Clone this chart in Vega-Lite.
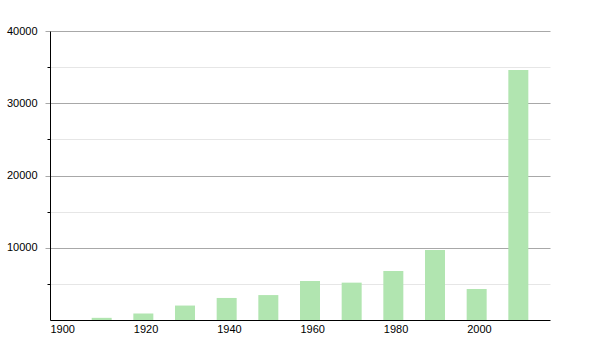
{
  "$schema": "https://vega.github.io/schema/vega-lite/v6.json",
  "width": 500,
  "height": 289,
  "autosize": {"type": "none"},
  "padding": {"left": 50, "top": 31, "right": 50, "bottom": 30},
  "background": "white",
  "config": {
    "view": {"stroke": null},
    "axis": {"labelFont": "Liberation Sans", "labelFontSize": 11, "labelColor": "#000"}
  },
  "data": {
    "values": [
      {"year": 1910, "population": 300},
      {"year": 1920, "population": 900},
      {"year": 1930, "population": 2000},
      {"year": 1940, "population": 3050},
      {"year": 1950, "population": 3450},
      {"year": 1960, "population": 5400},
      {"year": 1970, "population": 5170},
      {"year": 1980, "population": 6780},
      {"year": 1990, "population": 9690},
      {"year": 2000, "population": 4290},
      {"year": 2010, "population": 34600}
    ]
  },
  "layer": [
    {
      "mark": {"type": "bar", "opacity": 0},
      "encoding": {
        "x": {"field": "year", "type": "quantitative", "scale": {"domain": [1900, 2020], "nice": false, "zero": false, "padding": 0}},
        "y": {
          "field": "population", "type": "quantitative",
          "scale": {"domain": [0, 40000], "nice": false},
          "axis": {"orient": "left", "values": [5000, 15000, 25000, 35000], "labels": false, "domain": false, "grid": true, "gridColor": "#e6e6e6", "gridWidth": 1, "ticks": true, "tickColor": "#000", "tickSize": 3, "title": null}
        }
      }
    },
    {
      "mark": {"type": "bar", "width": 20, "xOffset": 10, "color": "#b1e5b0"},
      "encoding": {
        "x": {
          "field": "year", "type": "quantitative",
          "scale": {"domain": [1900, 2020], "nice": false, "zero": false, "padding": 0},
          "axis": {"values": [1900, 1920, 1940, 1960, 1980, 2000], "format": "d", "labelAlign": "left", "labelDx": -3, "ticks": false, "labelPadding": 3, "grid": false, "domain": true, "domainColor": "#000", "title": null, "labelFlush": false}
        },
        "y": {
          "field": "population", "type": "quantitative",
          "scale": {"domain": [0, 40000], "nice": false},
          "axis": {"orient": "left", "values": [10000, 20000, 30000, 40000], "format": "d", "grid": true, "gridColor": "#a8a8a8", "gridWidth": 1, "tickColor": "#a8a8a8", "tickSize": 5, "labelPadding": 8, "domain": true, "domainColor": "#000", "title": null, "labelFlush": false}
        }
      }
    }
  ],
  "resolve": {"axis": {"y": "independent"}}
}
